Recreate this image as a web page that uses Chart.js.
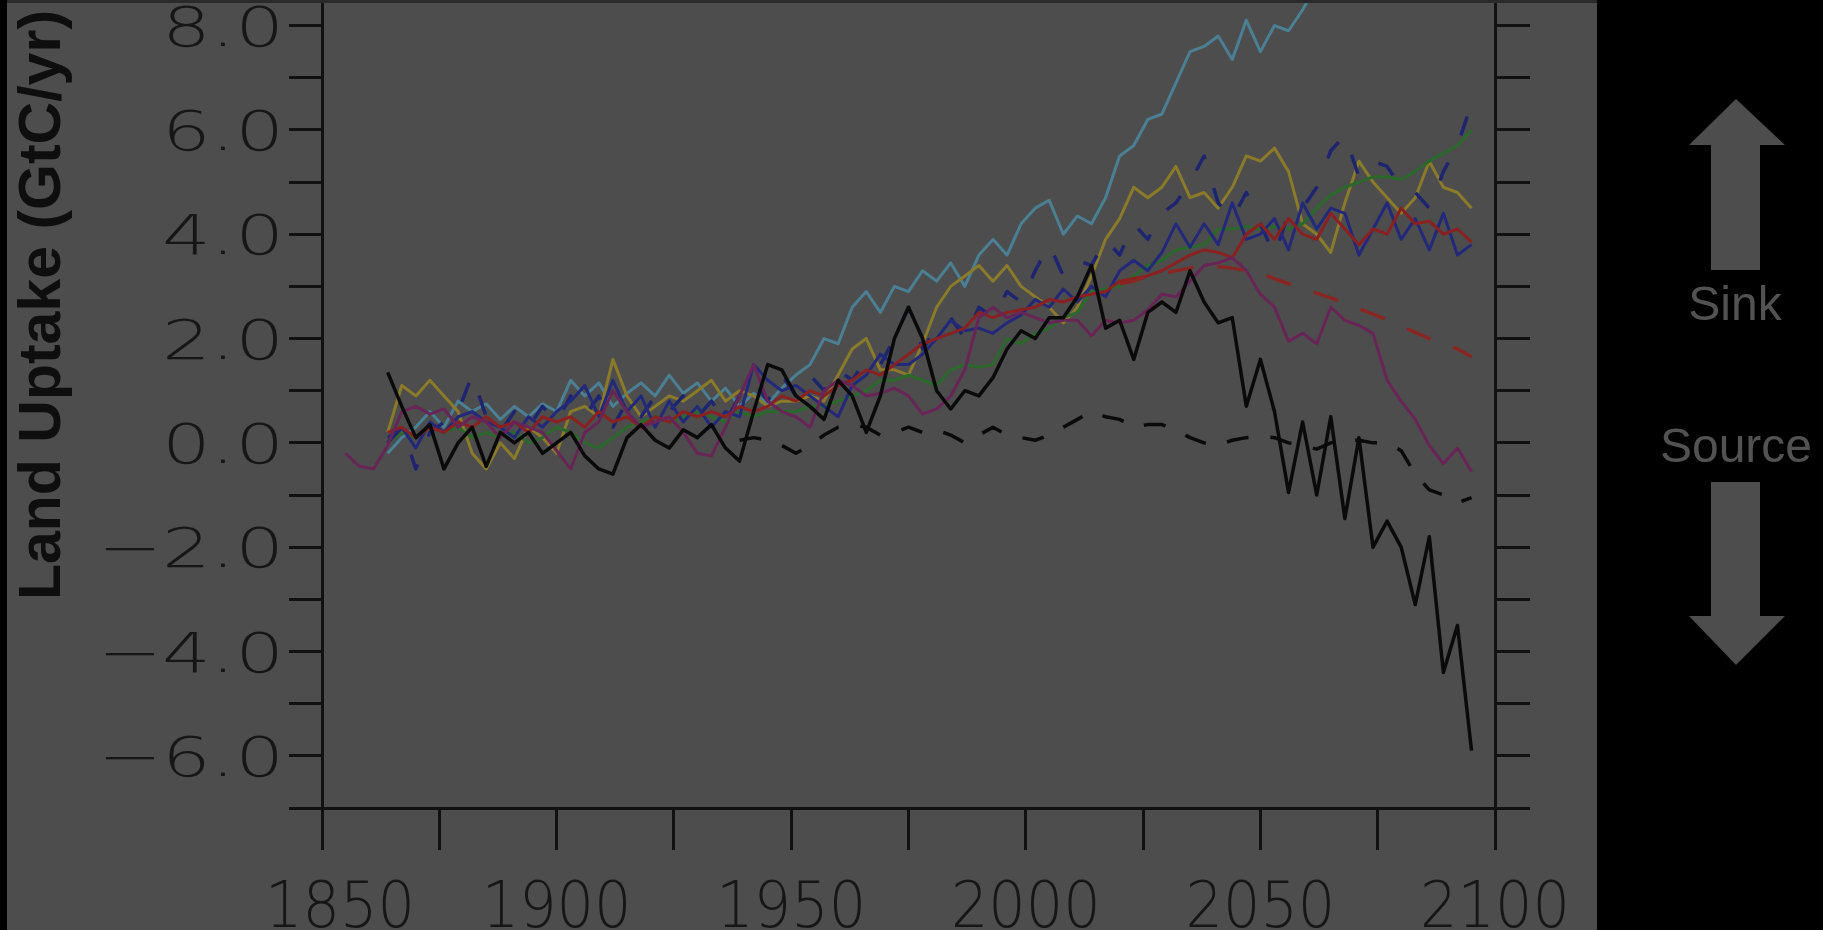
<!DOCTYPE html>
<html>
<head>
<meta charset="utf-8">
<title>Land Uptake</title>
<script src="https://cdn.jsdelivr.net/npm/chart.js@4.4.1/dist/chart.umd.min.js"></script>
<style>
  html, body { margin: 0; padding: 0; background: #000; }
  #landChart { display: block; }
</style>
</head>
<body>
<canvas id="landChart" width="1823" height="930"></canvas>
<script>
// ---------------- DATA ----------------
// sampled every 3 years, values read off the picture (GtC/yr)
const years = [
  1855, 1858, 1861, 1864, 1867, 1870, 1873, 1876, 1879, 1882,
  1885, 1888, 1891, 1894, 1897, 1900, 1903, 1906, 1909, 1912,
  1915, 1918, 1921, 1924, 1927, 1930, 1933, 1936, 1939, 1942,
  1945, 1948, 1951, 1954, 1957, 1960, 1963, 1966, 1969, 1972,
  1975, 1978, 1981, 1984, 1987, 1990, 1993, 1996, 1999, 2002,
  2005, 2008, 2011, 2014, 2017, 2020, 2023, 2026, 2029, 2032,
  2035, 2038, 2041, 2044, 2047, 2050, 2053, 2056, 2059, 2062,
  2065, 2068, 2071, 2074, 2077, 2080, 2083, 2086, 2089, 2092,
  2095
];

const tealLine = [
  null, null, null, -0.2, 0.1, 0.3, 0.6, 0.3, 0.8, 0.6,
  0.75, 0.45, 0.7, 0.5, 0.75, 0.6, 1.2, 0.9, 1.15, 0.7,
  0.95, 1.15, 0.9, 1.3, 0.95, 1.15, 0.8, 1.05, 0.7, 0.95,
  0.75, 1.05, 1.3, 1.5, 2.0, 1.9, 2.6, 2.9, 2.5, 3.0,
  2.9, 3.3, 3.1, 3.45, 3.0, 3.6, 3.9, 3.6, 4.2, 4.5,
  4.65, 4.0, 4.35, 4.2, 4.7, 5.5, 5.7, 6.2, 6.3, 6.9,
  7.5, 7.6, 7.8, 7.35, 8.1, 7.5, 8.0, 7.9, 8.3, 8.8,
  9.1, null, null, null, null, null, null, null, null, null,
  null
];

const goldLine = [
  null, null, null, 0.2, 1.1, 0.9, 1.2, 0.9, 0.6, -0.2,
  -0.5, 0.0, -0.3, 0.3, 0.1, -0.2, 0.6, 0.7, 0.5, 1.6,
  0.9, 0.5, 0.7, 0.9, 0.8, 1.0, 1.2, 0.8, 1.0, 0.9,
  0.7, 0.8, 0.8, 0.9, 0.8, 1.3, 1.8, 2.0, 1.4, 1.4,
  1.3, 1.9, 2.6, 3.0, 3.2, 3.4, 3.1, 3.4, 3.0, 2.8,
  2.6, 2.3, 2.6, 3.2, 3.9, 4.3, 4.9, 4.7, 4.9, 5.3,
  4.7, 4.8, 4.5, 4.9, 5.5, 5.4, 5.65, 5.2, 4.2, 4.0,
  3.65, 4.6, 5.4, 5.0, 4.7, 4.4, 4.7, 5.4, 4.9, 4.8,
  4.5
];

const greenLine = [
  null, null, null, 0.0, 0.2, 0.1, 0.3, 0.2, 0.3, 0.1,
  0.2, 0.1, 0.2, 0.0, 0.1, 0.3, 0.2, 0.0, -0.1, 0.1,
  0.3, 0.4, 0.5, 0.4, 0.5, 0.6, 0.5, 0.4, 0.6, 0.5,
  0.6, 0.6, 0.6, 0.7, 0.7, 0.8, 0.9, 1.0, 1.2, 1.2,
  1.3, 1.2, 1.1, 1.4, 1.5, 1.45, 1.5, 2.0, 1.9, 2.1,
  2.2, 2.4, 2.5, 2.9, 2.95, 3.0, 3.2, 3.4, 3.5, 3.7,
  3.75, 3.8, 4.1, 4.1, 4.15, 4.1, 4.15, 4.1, 4.2, 4.5,
  4.75, 4.9, 5.0, 5.1, 5.1, 5.05, 5.2, 5.4, 5.55, 5.7,
  6.0
];

const navyLine = [
  null, null, null, 0.1, 0.3, -0.1, 0.4, 0.2, 0.5, 0.6,
  0.4, 0.3, 0.1, 0.5, 0.3, 0.6, 0.8, 1.1, 0.5, 1.2,
  0.6, 0.9, 0.3, 0.8, 0.4, 0.7, 0.3, 0.6, 0.5, 1.5,
  1.2, 1.0, 1.1, 0.9, 0.7, 0.5, 1.1, 1.3, 1.7, 1.5,
  1.5, 1.7, 2.0, 2.35, 2.15, 2.2, 2.1, 2.3, 2.45, 2.75,
  2.6, 2.95, 2.7, 3.0, 2.8, 3.3, 3.5, 3.3, 3.65, 4.2,
  3.75, 4.2, 3.8, 4.6, 3.9, 4.0, 4.3, 3.7, 4.6, 4.1,
  4.5, 4.4, 3.6, 4.1, 4.6, 3.9, 4.3, 3.7, 4.4, 3.6,
  3.8
];

const navyDashed = [
  null, null, null, 0.0, 0.3, -0.5, 0.2, 0.4, 0.6, 1.3,
  0.5, 0.2, 0.6, 0.3, 0.7, 0.4, 0.9, 0.5, 0.9, 0.3,
  0.8, 0.5, 0.9, 0.6, 0.9, 0.5, 0.8, 0.4, 0.9, 1.2,
  0.8, 1.3, 0.9, 1.3, 1.0, 1.4, 1.2, 1.6, 1.5, 2.0,
  2.6, 1.8, 2.2, 2.4, 2.0, 2.6, 2.4, 2.9, 2.7, 3.3,
  3.8, 3.2, 3.5, 3.4, 3.9, 3.6, 4.2, 3.9, 4.4, 4.6,
  5.0, 5.5, 4.6, 4.3, 4.8, 4.2, 3.6, 4.4, 4.5, 4.9,
  5.6, 5.9, 5.1, 5.4, 5.3, 4.9, 4.8, 4.5, 5.2, 5.7,
  6.5
];

const redLine = [
  null, null, null, 0.2, 0.3, 0.1, 0.3, 0.2, 0.4, 0.3,
  0.5, 0.3, 0.4, 0.2, 0.5, 0.4, 0.5, 0.3, 0.6, 0.4,
  0.5, 0.3, 0.5, 0.4, 0.6, 0.5, 0.6, 0.5, 0.7, 0.6,
  0.7, 0.9, 0.8, 1.0, 0.9, 1.1, 1.2, 1.4, 1.3, 1.5,
  1.7, 1.9, 2.0, 2.1, 2.2, 2.5, 2.4, 2.5, 2.55, 2.6,
  2.75, 2.7, 2.8, 2.85, 2.9, 3.1, 3.15, 3.2, 3.3, 3.45,
  3.6, 3.7, 3.65, 3.55, 4.0, 4.2, 3.9, 4.3, 4.0, 3.9,
  4.4, 4.1, 3.8, 4.1, 4.0, 4.5, 4.2, 4.25, 4.0, 4.1,
  3.85
];

const redDashed = [
  null, null, null, null, null, null, null, null, null, null,
  null, null, null, null, null, null, null, null, null, null,
  null, null, null, null, null, null, null, null, null, null,
  null, null, null, null, null, null, null, null, null, null,
  null, null, null, null, null, null, null, null, null, null,
  null, null, null, null, null, 3.05, 3.1, 3.2, 3.25, 3.3,
  3.35, 3.4, 3.38, 3.35, 3.3, 3.25, 3.15, 3.05, 2.97, 2.87,
  2.78, 2.68, 2.57, 2.47, 2.36, 2.24, 2.12, 2.0, 1.9, 1.8,
  1.65
];

const purpleLine = [
  -0.2, -0.45, -0.5, -0.05, 0.6, 0.7, 0.55, 0.65, 0.3, 0.5,
  0.4, 0.1, 0.4, 0.3, 0.2, -0.15, -0.5, 0.2, 0.4, 1.0,
  0.6, 0.3, 0.4, 0.5, 0.2, -0.2, -0.25, 0.3, 0.9, 1.5,
  0.8, 0.6, 0.5, 0.3, 1.0, 1.2, 1.1, 0.9, 0.95, 1.05,
  0.9, 0.55, 0.65, 0.9, 1.4, 2.4, 2.6, 2.4, 2.5, 2.4,
  2.3, 2.35, 2.35, 2.05, 2.35, 2.3, 2.35, 2.55, 2.85, 2.8,
  3.1, 3.4, 3.45, 3.55, 3.3, 2.85, 2.6, 1.95, 2.1, 1.9,
  2.6, 2.35, 2.25, 2.1, 1.2, 0.8, 0.45, -0.05, -0.4, -0.1,
  -0.55
];

const blackLine = [
  null, null, null, 1.35, 0.7, 0.1, 0.35, -0.5, 0.0, 0.3,
  -0.45, 0.2, 0.0, 0.2, -0.2, 0.0, 0.2, -0.25, -0.5, -0.6,
  0.1, 0.35, 0.05, -0.1, 0.25, 0.1, 0.35, -0.1, -0.35, 0.6,
  1.5, 1.4, 0.9, 0.7, 0.45, 1.2, 0.9, 0.2, 0.9, 2.0,
  2.6, 2.0, 1.0, 0.65, 1.0, 0.9, 1.25, 1.8, 2.15, 2.0,
  2.4, 2.4, 2.8, 3.4, 2.2, 2.35, 1.6, 2.5, 2.7, 2.5,
  3.3, 2.7, 2.3, 2.4, 0.7, 1.6, 0.6, -0.95, 0.4, -1.0,
  0.5, -1.45, 0.1, -2.0, -1.5, -2.0, -3.1, -1.8, -4.4, -3.5,
  -5.9
];

const blackDashed = [
  null, null, null, null, null, null, null, null, null, null,
  null, null, null, null, null, null, null, null, null, null,
  null, null, null, null, null, null, null, null, 0.05, 0.1,
  0.05, -0.05, -0.2, -0.05, 0.15, 0.3, 0.35, 0.3, 0.15, 0.2,
  0.3, 0.2, 0.25, 0.15, 0.0, 0.15, 0.3, 0.15, 0.1, 0.05,
  0.15, 0.3, 0.45, 0.6, 0.5, 0.45, 0.3, 0.35, 0.35, 0.25,
  0.1, 0.0, -0.05, 0.05, 0.1, 0.12, 0.1, 0.0, -0.05, -0.12,
  0.0, 0.05, 0.05, 0.0, 0.0, -0.15, -0.6, -0.9, -1.0, -1.15,
  -1.05
];

const xTickLabels = [1850, 1900, 1950, 2000, 2050, 2100];
const yTickLabels = [-6, -4, -2, 0, 2, 4, 6, 8];

// ---------------- STYLE ----------------
const BG = "#4d4d4d";
const AXIS = "#111111";
const INK = "#161616";

function pts(vals) {
  return years.map((yr, i) => ({ x: yr, y: vals[i] }));
}

function line(label, vals, color, width, dash) {
  return {
    label,
    data: pts(vals),
    borderColor: color,
    borderWidth: width,
    borderDash: dash || [],
    pointRadius: 0,
    tension: 0,
    fill: false,
    borderJoinStyle: "round",
    spanGaps: false,
  };
}

// ---------------- DECORATION ----------------
const frame = {
  id: "frame",
  beforeDraw(chart) {
    const ctx = chart.ctx;
    ctx.save();
    ctx.fillStyle = BG;
    ctx.fillRect(0, 0, chart.width, chart.height);
    ctx.fillStyle = "#000";
    ctx.fillRect(0, 0, 7, chart.height);
    ctx.fillRect(1597, 0, chart.width - 1597, chart.height);
    ctx.restore();
  },
  afterDraw(chart) {
    const ctx = chart.ctx;
    const xs = chart.scales.x;
    const ys = chart.scales.y;
    ctx.save();

    // top edge strip
    ctx.fillStyle = "#2a2a2a";
    ctx.fillRect(7, 0, 1590, 3);

    // y tick labels
    ctx.fillStyle = INK;
    ctx.font = '300 56px "DejaVu Sans"';
    ctx.textAlign = "right";
    ctx.textBaseline = "alphabetic";
    yTickLabels.forEach((v) => {
      const txt = (v < 0 ? "\u2212" : "") + Math.abs(v).toFixed(1);
      const py = ys.getPixelForValue(v);
      ctx.save();
      ctx.translate(284, py + 20);
      ctx.scale(1.37, 1);
      ctx.fillText(txt, 0, 0);
      ctx.restore();
    });

    // x tick labels (the first one sits a little right of its tick)
    ctx.font = '300 64px "DejaVu Sans"';
    ctx.textAlign = "center";
    xTickLabels.forEach((v, i) => {
      const px = xs.getPixelForValue(v) + (i === 0 ? 18 : 0);
      ctx.save();
      ctx.translate(px, 927);
      ctx.scale(0.92, 1);
      ctx.fillText(String(v), 0, 0);
      ctx.restore();
    });

    // axis title
    ctx.save();
    ctx.translate(60, 305);
    ctx.rotate(-Math.PI / 2);
    ctx.font = 'bold 59px "Liberation Sans", Arial, sans-serif';
    ctx.fillStyle = "#0e0e0e";
    ctx.textAlign = "center";
    ctx.fillText("Land Uptake (GtC/yr)", 0, 0);
    ctx.restore();

    // sink / source arrows
    ctx.fillStyle = "#4d4d4d";
    ctx.beginPath();
    ctx.moveTo(1736, 99);
    ctx.lineTo(1785, 145);
    ctx.lineTo(1760, 145);
    ctx.lineTo(1760, 270);
    ctx.lineTo(1711, 270);
    ctx.lineTo(1711, 145);
    ctx.lineTo(1689, 145);
    ctx.closePath();
    ctx.fill();
    ctx.beginPath();
    ctx.moveTo(1711, 482);
    ctx.lineTo(1760, 482);
    ctx.lineTo(1760, 616);
    ctx.lineTo(1785, 616);
    ctx.lineTo(1736, 665);
    ctx.lineTo(1689, 616);
    ctx.lineTo(1711, 616);
    ctx.closePath();
    ctx.fill();

    ctx.fillStyle = "#525252";
    ctx.font = '48px "Liberation Sans", Arial, sans-serif';
    ctx.textAlign = "center";
    ctx.fillText("Sink", 1735, 320);
    ctx.fillText("Source", 1736, 462);

    ctx.restore();
  },
};

// ---------------- CHART ----------------
const axisGrid = (len) => ({
  drawOnChartArea: false,
  drawTicks: true,
  tickLength: len,
  color: AXIS,
  lineWidth: 3,
});

const datasets = [
  line("black", blackLine, "#0a0a0a", 3.5),
  line("purple", purpleLine, "#682457", 3),
  line("red dashed", redDashed, "#8a2622", 3.5, [26, 24]),
  line("red", redLine, "#8a2020", 3),
  line("navy", navyLine, "#22297a", 3),
  line("navy dashed", navyDashed, "#1e2570", 3.5, [20, 30]),
  line("green", greenLine, "#2b682b", 3),
  line("gold", goldLine, "#8a7a2a", 3),
  line("teal", tealLine, "#4a7f94", 3),
  line("black dashed", blackDashed, "#0a0a0a", 3.5, [22, 22]),
];

new Chart(document.getElementById("landChart").getContext("2d"), {
  type: "line",
  data: { datasets },
  options: {
    responsive: false,
    animation: false,
    devicePixelRatio: 1,
    layout: { padding: 0 },
    plugins: { legend: { display: false }, tooltip: { enabled: false } },
    scales: {
      x: {
        type: "linear",
        position: "bottom",
        min: 1850,
        max: 2100,
        ticks: { display: false, stepSize: 25 },
        grid: axisGrid(42),
        border: { display: true, color: AXIS, width: 3 },
        afterFit: (s) => { s.height = 122; },
      },
      y: {
        type: "linear",
        position: "left",
        min: -7,
        max: 8.49,
        ticks: { display: false, stepSize: 1, includeBounds: false },
        grid: axisGrid(33),
        border: { display: true, color: AXIS, width: 3 },
        afterFit: (s) => { s.width = 322; },
      },
      y2: {
        type: "linear",
        position: "right",
        min: -7,
        max: 8.49,
        ticks: { display: false, stepSize: 1, includeBounds: false },
        grid: axisGrid(35),
        border: { display: true, color: AXIS, width: 3 },
        afterFit: (s) => { s.width = 328; },
      },
    },
  },
  plugins: [frame],
});
</script>
</body>
</html>
